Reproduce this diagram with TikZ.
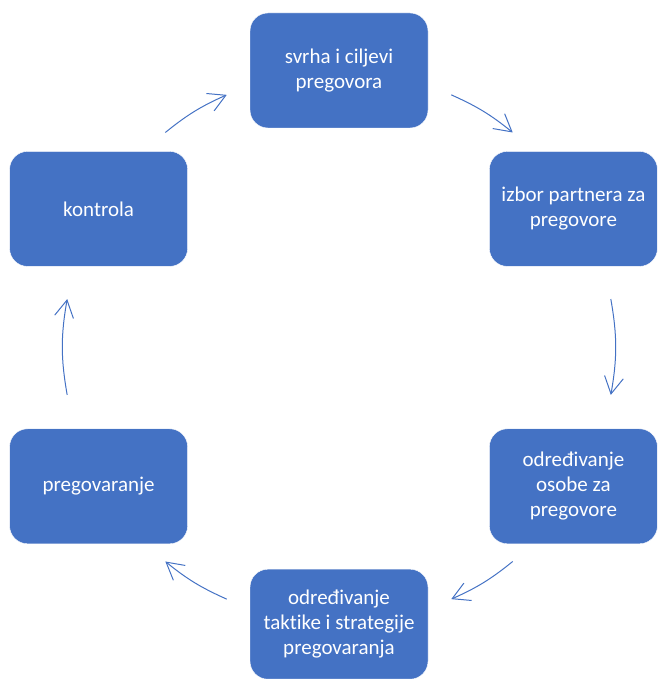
\documentclass[tikz,border=0pt]{standalone}
\usepackage{fontspec}
\setmainfont{Carlito}[Ligatures={NoCommon}]
\usetikzlibrary{positioning, calc, arrows.meta}
\definecolor{phaseblue}{HTML}{4472C4}

\begin{document}
\begin{tikzpicture}[x=1pt, y=1pt, auto, >={Straight Barb[length=17pt, width=19pt]}]

        % --- Styles ---
        \tikzstyle{phase} = [rectangle, rounded corners=18pt, minimum width=178pt, minimum height=115pt, text centered, align=center, fill=phaseblue, draw=white, thin, text=white, font=\fontsize{21}{25}\selectfont]
        \tikzstyle{arrow} = [draw=phaseblue, line width=1pt, ->]

        \useasboundingbox (0,0) rectangle (657,679);
        \clip (0,0) rectangle (657,679);

        % --- Nodes ---

        % 1. Purpose
        \node (svrha) [phase] at (339,608.5) {svrha i ciljevi\\pregovora};

        % 2. Partner
        \node (izbor) [phase, minimum width=168pt, below right=23pt and 61pt of svrha] {izbor partnera za\\pregovore};

        % 3. Person
        \node (osoba) [phase, minimum width=168pt, below=162pt of izbor] {određivanje\\osobe za\\pregovore};

        % 4. Tactics
        \node (taktika) [phase, minimum height=110pt, below left=25pt and 61pt of osoba] {određivanje\\taktike i strategije\\pregovaranja};

        % 5. Negotiation
        \node (pregov) [phase, above left=25pt and 62pt of taktika] {pregovaranje};

        % 6. Control
        \node (kontrola) [phase, above=162pt of pregov] {kontrola};

        % --- Arrow ends (on one circle round the middle) ---
        \coordinate (mid) at (339,332);
        \coordinate (svrha-out) at ($(mid)+(66:276pt)$);
        \coordinate (izbor-in) at ($(mid)+(51:276pt)$);
        \coordinate (izbor-out) at ($(mid)+(10:276pt)$);
        \coordinate (osoba-in) at ($(mid)+(-10:276pt)$);
        \coordinate (osoba-out) at ($(mid)+(-51:276pt)$);
        \coordinate (taktika-in) at ($(mid)+(-66:276pt)$);
        \coordinate (taktika-out) at ($(mid)+(-114:276pt)$);
        \coordinate (pregov-in) at ($(mid)+(-129:276pt)$);
        \coordinate (pregov-out) at ($(mid)+(190:276pt)$);
        \coordinate (kontrola-in) at ($(mid)+(170:276pt)$);
        \coordinate (kontrola-out) at ($(mid)+(129:276pt)$);
        \coordinate (svrha-in) at ($(mid)+(114:276pt)$);

        % --- Arrows ---
        \draw[arrow] (svrha-out) to[bend left=7.5] (izbor-in);
        \draw[arrow] (izbor-out) to[bend left=10] (osoba-in);
        \draw[arrow] (osoba-out) to[bend left=7.5] (taktika-in);
        \draw[arrow] (taktika-out) to[bend left=7.5] (pregov-in);
        \draw[arrow] (pregov-out) to[bend left=10] (kontrola-in);
        \draw[arrow] (kontrola-out) to[bend left=7.5] (svrha-in);
        \end{tikzpicture}
\end{document}
